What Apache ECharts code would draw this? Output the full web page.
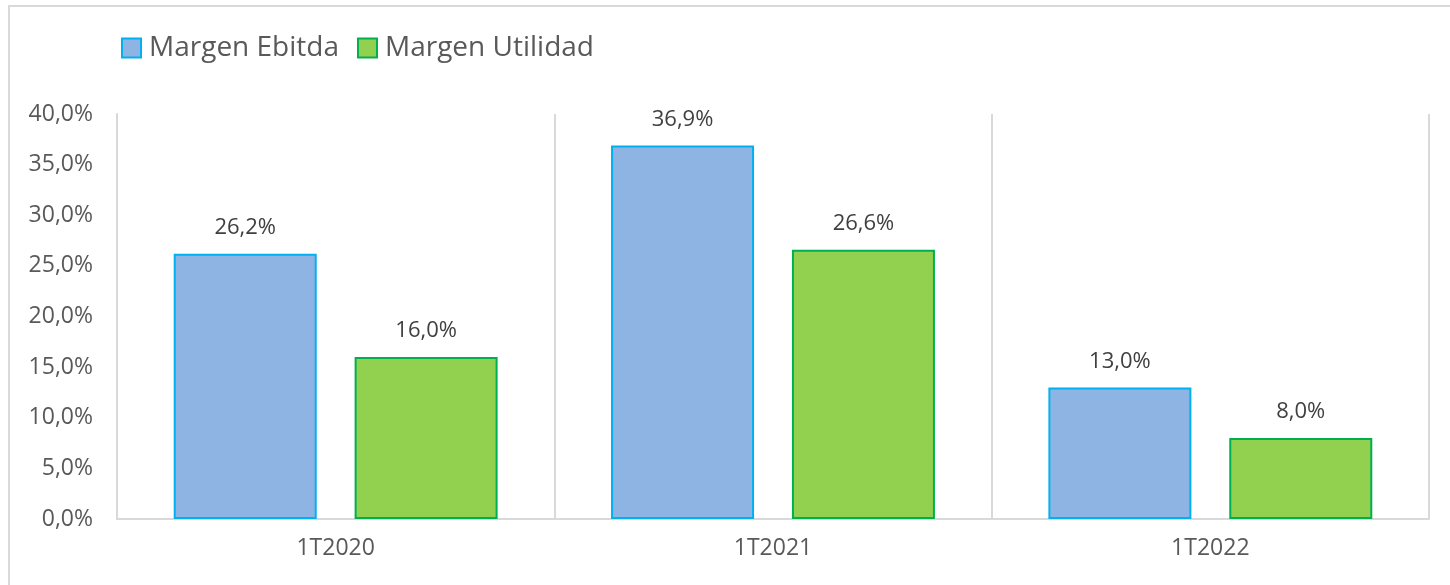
<!DOCTYPE html>
<html>
<head>
<meta charset="utf-8">
<script src="https://cdn.jsdelivr.net/npm/echarts@6/dist/echarts.min.js"></script>
<style>
  html, body { margin: 0; padding: 0; background: #fff; }
  #chart { width: 1450px; height: 585px; }
</style>
</head>
<body>
<div id="chart"></div>
<script>
// datos del gráfico
var categories = ['1T2020', '1T2021', '1T2022'];
var margenEbitda = [26.2, 36.9, 13.0];
var margenUtilidad = [16.0, 26.6, 8.0];
var yTicks = [0, 5, 10, 15, 20, 25, 30, 35, 40];

function pct(v) {
  return v.toFixed(1).replace('.', ',') + '%';
}

var chart = echarts.init(document.getElementById('chart'));
var font = '"Open Sans", "Noto Sans", sans-serif';

var option = {
  animation: false,
  textStyle: { fontFamily: font },
  graphic: [{
    type: 'rect',
    shape: { x: 9, y: 6, width: 1460, height: 600 },
    style: { fill: 'none', stroke: '#d9d9d9', lineWidth: 2 },
    silent: true
  }],
  legend: {
    left: 116,
    top: 29,
    itemWidth: 19,
    itemHeight: 19,
    itemGap: 18,
    icon: 'rect',
    textStyle: { fontSize: 28, color: '#595959', fontFamily: font, padding: [0, 0, 0, 3] },
    data: ['Margen Ebitda', 'Margen Utilidad']
  },
  grid: { left: 117, right: 21, top: 114, bottom: 66 },
  xAxis: {
    type: 'category',
    data: categories,
    axisTick: { show: false },
    axisLine: { lineStyle: { color: '#d9d9d9', width: 2 } },
    splitLine: { show: true, lineStyle: { color: '#d9d9d9', width: 2 } },
    axisLabel: { fontSize: 23, color: '#595959', margin: 18, fontFamily: font }
  },
  yAxis: {
    type: 'value',
    min: yTicks[0],
    max: yTicks[yTicks.length - 1],
    interval: 5,
    splitLine: { show: false },
    axisTick: { show: false },
    axisLine: { show: true, lineStyle: { color: '#d9d9d9', width: 2 } },
    axisLabel: { fontSize: 23, color: '#595959', margin: 24, fontFamily: font, formatter: pct }
  },
  series: [{
    name: 'Margen Ebitda',
    type: 'bar',
    data: margenEbitda,
    barWidth: 143,
    barGap: '26.5%',
    itemStyle: { color: '#8eb4e3', borderColor: '#00b0f0', borderWidth: 2 },
    label: {
      show: true, position: 'top', distance: 15,
      fontSize: 22, color: '#404040', fontFamily: font,
      formatter: function (p) { return pct(p.value); }
    }
  }, {
    name: 'Margen Utilidad',
    type: 'bar',
    data: margenUtilidad,
    barWidth: 143,
    itemStyle: { color: '#92d050', borderColor: '#00b050', borderWidth: 2 },
    label: {
      show: true, position: 'top', distance: 15,
      fontSize: 22, color: '#404040', fontFamily: font,
      formatter: function (p) { return pct(p.value); }
    }
  }]
};

chart.setOption(option);
</script>
</body>
</html>
